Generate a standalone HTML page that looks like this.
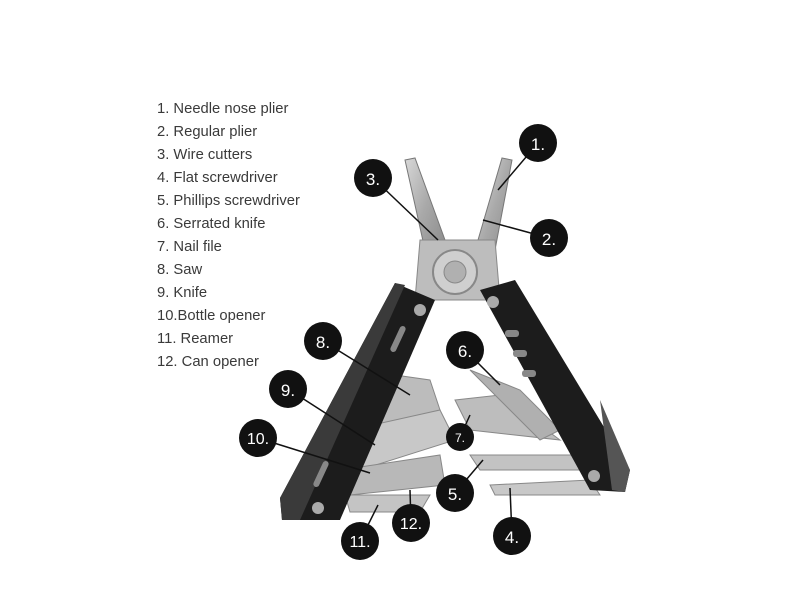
<!DOCTYPE html>
<html><head><meta charset="utf-8"><style>
html,body{margin:0;padding:0;background:#fff;width:800px;height:600px;overflow:hidden}
.list{position:absolute;left:157px;top:97px;font-family:"Liberation Sans",sans-serif;font-size:15px;color:#3a3a3a;line-height:23px;transform:scaleX(0.985);transform-origin:0 0;white-space:nowrap}
svg{position:absolute;left:0;top:0}
</style></head><body>
<svg width="800" height="600" viewBox="0 0 800 600">
<defs>
<linearGradient id="st" x1="0" y1="0" x2="1" y2="1"><stop offset="0" stop-color="#d8d8d8"/><stop offset="0.5" stop-color="#a9a9a9"/><stop offset="1" stop-color="#8a8a8a"/></linearGradient>
</defs>
<polygon points="405,160 415,158 445,240 440,255 425,250" fill="url(#st)" stroke="#777" stroke-width="1"/>
<polygon points="502,158 512,160 495,250 480,255 478,240" fill="url(#st)" stroke="#777" stroke-width="1"/>
<polygon points="420,240 495,240 500,300 415,300" fill="#bdbdbd" stroke="#888"/>
<circle cx="455" cy="272" r="22" fill="#cfcfcf" stroke="#888" stroke-width="2"/>
<circle cx="455" cy="272" r="11" fill="#b0b0b0" stroke="#888"/>
<polygon points="360,370 430,380 440,410 380,440" fill="#bcbcbc" stroke="#888"/>
<polygon points="350,430 440,410 455,440 360,470" fill="#c8c8c8" stroke="#888"/>
<polygon points="340,470 440,455 445,485 350,495" fill="#b8b8b8" stroke="#888"/>
<polygon points="345,495 430,495 420,512 350,512" fill="#c4c4c4" stroke="#888"/>
<polygon points="455,400 500,395 560,440 470,430" fill="#bdbdbd" stroke="#888"/>
<polygon points="470,370 520,390 560,430 540,440" fill="#b0b0b0" stroke="#888"/>
<polygon points="470,455 590,455 600,470 480,470" fill="#c3c3c3" stroke="#888"/>
<polygon points="490,485 590,480 600,495 495,495" fill="#c8c8c8" stroke="#888"/>
<polygon points="395,283 435,300 340,520 282,520 280,498" fill="#1c1c1c"/>
<polygon points="395,283 405,285 300,520 282,520 280,498" fill="#3a3a3a"/>
<circle cx="420" cy="310" r="6" fill="#aaa"/>
<circle cx="318" cy="508" r="6" fill="#aaa"/>
<rect x="395" y="325" width="6" height="28" rx="3" fill="#888" transform="rotate(25 398 339)"/>
<rect x="318" y="460" width="6" height="28" rx="3" fill="#888" transform="rotate(25 321 474)"/>
<polygon points="480,290 515,280 630,470 625,492 590,490" fill="#1c1c1c"/>
<polygon points="600,400 630,470 625,492 612,490" fill="#555"/>
<circle cx="493" cy="302" r="6" fill="#aaa"/>
<circle cx="594" cy="476" r="6" fill="#aaa"/>
<rect x="505" y="330" width="14" height="7" rx="3" fill="#888"/>
<rect x="513" y="350" width="14" height="7" rx="3" fill="#888"/>
<rect x="522" y="370" width="14" height="7" rx="3" fill="#888"/>
<g stroke="#111" stroke-width="1.5">
<line x1="538" y1="143" x2="498" y2="190"/>
<line x1="373" y1="178" x2="438" y2="240"/>
<line x1="549" y1="238" x2="483" y2="220"/>
<line x1="465" y1="350" x2="500" y2="385"/>
<line x1="323" y1="341" x2="410" y2="395"/>
<line x1="288" y1="389" x2="375" y2="445"/>
<line x1="258" y1="438" x2="370" y2="473"/>
<line x1="460" y1="437" x2="470" y2="415"/>
<line x1="455" y1="493" x2="483" y2="460"/>
<line x1="512" y1="536" x2="510" y2="488"/>
<line x1="360" y1="541" x2="378" y2="505"/>
<line x1="411" y1="523" x2="410" y2="490"/>
</g>
<g fill="#111">
<circle cx="538" cy="143" r="19"/><circle cx="373" cy="178" r="19"/><circle cx="549" cy="238" r="19"/>
<circle cx="465" cy="350" r="19"/><circle cx="323" cy="341" r="19"/><circle cx="288" cy="389" r="19"/>
<circle cx="258" cy="438" r="19"/><circle cx="460" cy="437" r="14"/><circle cx="455" cy="493" r="19"/>
<circle cx="512" cy="536" r="19"/><circle cx="360" cy="541" r="19"/><circle cx="411" cy="523" r="19"/>
</g>
<g fill="#fff" font-family="Liberation Sans,sans-serif" font-size="17" text-anchor="middle">
<text x="538" y="150">1.</text><text x="373" y="185">3.</text><text x="549" y="245">2.</text>
<text x="465" y="357">6.</text><text x="323" y="348">8.</text><text x="288" y="396">9.</text>
<text x="258" y="444" font-size="16">10.</text><text x="460" y="442" font-size="12">7.</text><text x="455" y="500">5.</text>
<text x="512" y="543">4.</text><text x="360" y="547" font-size="16">11.</text><text x="411" y="529" font-size="16">12.</text>
</g>
</svg>
<div class="list">1. Needle nose plier<br>2. Regular plier<br>3. Wire cutters<br>4. Flat screwdriver<br>5. Phillips screwdriver<br>6. Serrated knife<br>7. Nail file<br>8. Saw<br>9. Knife<br>10.Bottle opener<br>11. Reamer<br>12. Can opener</div>
</body></html>
